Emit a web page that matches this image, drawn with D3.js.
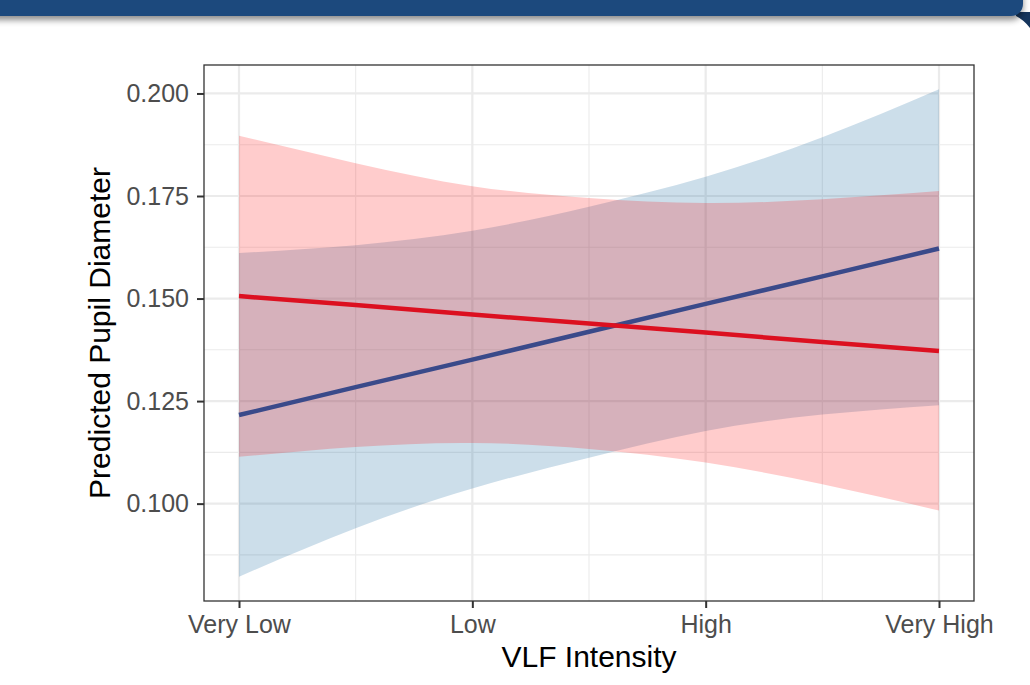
<!DOCTYPE html>
<html lang="en">
<head>
<meta charset="UTF-8">
<title>Predicted Pupil Diameter by VLF Intensity</title>
<script src="https://d3js.org/d3.v7.min.js"></script>
<style>
  body { margin: 0; background: #fff; }
  svg text { font-family: "Liberation Sans", Arial, Helvetica, sans-serif; }
</style>
</head>
<body>
<div id="chart"></div>
<script>
// category labels on the x axis (positions 1..4)
var levels = ["Very Low", "Low", "High", "Very High"];
// x positions the fitted values were read at
var xs = [1, 1.5, 2, 2.5, 3, 3.5, 4];

// blue group
var blueFit   = [0.1216, 0.1284, 0.1351, 0.1419, 0.1487, 0.1554, 0.1622];
var blueLower = [0.0822, 0.0940, 0.1037, 0.1112, 0.1177, 0.1217, 0.1240];
var blueUpper = [0.1611, 0.1630, 0.1665, 0.1724, 0.1797, 0.1893, 0.2010];

// red group
var redFit   = [0.1506, 0.1484, 0.1461, 0.1439, 0.1417, 0.1394, 0.1372];
var redLower = [0.1114, 0.1138, 0.1148, 0.1133, 0.1100, 0.1047, 0.0983];
var redUpper = [0.1897, 0.1830, 0.1774, 0.1745, 0.1733, 0.1742, 0.1762];

var yTicks = [0.100, 0.125, 0.150, 0.175, 0.200];

var W = 1030, H = 685;
var panel = {left: 204, right: 974, top: 65, bottom: 601};

var svg = d3.select("#chart").append("svg")
    .attr("width", W)
    .attr("height", H);

// banner shadow + banner
var defs = svg.append("defs");
var f = defs.append("filter").attr("id", "shadow")
    .attr("x", "-5%").attr("y", "-50%").attr("width", "110%").attr("height", "250%");
f.append("feDropShadow")
    .attr("dx", 0).attr("dy", 4).attr("stdDeviation", 3)
    .attr("flood-color", "#000").attr("flood-opacity", 0.45);

svg.append("path")
    .attr("d", "M1016,12 L1030,12 L1030,28 Q1024,20 1016,16 Z")
    .attr("fill", "#16355c");
svg.append("rect")
    .attr("x", -20).attr("y", -30)
    .attr("width", 1043).attr("height", 46)
    .attr("rx", 12)
    .attr("fill", "#1f497d")
    .attr("filter", "url(#shadow)");

// scales, ggplot-style 5% expansion
var allY = blueLower.concat(blueUpper, redLower, redUpper);
var yMin = d3.min(allY), yMax = d3.max(allY), ySpan = yMax - yMin;
var y = d3.scaleLinear()
    .domain([yMin - 0.05 * ySpan, yMax + 0.05 * ySpan])
    .range([panel.bottom, panel.top]);
var x = d3.scaleLinear()
    .domain([1 - 0.15, 4 + 0.15])
    .range([panel.left, panel.right]);

var g = svg.append("g");

// gridlines
var yMinor = d3.range(0.0875, y.domain()[1], 0.025).filter(function(v) { return v > y.domain()[0]; });
var xMinor = [1.5, 2.5, 3.5];

g.selectAll(".ymin").data(yMinor).enter().append("line")
    .attr("x1", panel.left).attr("x2", panel.right)
    .attr("y1", function(d) { return y(d); }).attr("y2", function(d) { return y(d); })
    .attr("stroke", "#ebebeb").attr("stroke-width", 1.1);
g.selectAll(".xmin").data(xMinor).enter().append("line")
    .attr("y1", panel.top).attr("y2", panel.bottom)
    .attr("x1", function(d) { return x(d); }).attr("x2", function(d) { return x(d); })
    .attr("stroke", "#ebebeb").attr("stroke-width", 1.1);
g.selectAll(".ymaj").data(yTicks).enter().append("line")
    .attr("x1", panel.left).attr("x2", panel.right)
    .attr("y1", function(d) { return y(d); }).attr("y2", function(d) { return y(d); })
    .attr("stroke", "#ebebeb").attr("stroke-width", 2.2);
g.selectAll(".xmaj").data(levels).enter().append("line")
    .attr("y1", panel.top).attr("y2", panel.bottom)
    .attr("x1", function(d, i) { return x(i + 1); }).attr("x2", function(d, i) { return x(i + 1); })
    .attr("stroke", "#ebebeb").attr("stroke-width", 2.2);

// ribbons
function band(lo, hi) {
  return d3.area()
      .x(function(d, i) { return x(xs[i]); })
      .y0(function(d, i) { return y(lo[i]); })
      .y1(function(d, i) { return y(hi[i]); })
      .curve(d3.curveNatural)(xs);
}
g.append("path").attr("d", band(blueLower, blueUpper))
    .attr("fill", "rgb(0,90,150)").attr("fill-opacity", 0.2);
g.append("path").attr("d", band(redLower, redUpper))
    .attr("fill", "rgb(255,0,0)").attr("fill-opacity", 0.2);

// fitted lines
var line = function(vals) {
  return d3.line()
      .x(function(d, i) { return x(xs[i]); })
      .y(function(d, i) { return y(vals[i]); })(xs);
};
g.append("path").attr("d", line(blueFit))
    .attr("fill", "none").attr("stroke", "#3a4a8a").attr("stroke-width", 4.5);
g.append("path").attr("d", line(redFit))
    .attr("fill", "none").attr("stroke", "#dc1020").attr("stroke-width", 4.5);

// panel border
g.append("rect")
    .attr("x", panel.left).attr("y", panel.top)
    .attr("width", panel.right - panel.left).attr("height", panel.bottom - panel.top)
    .attr("fill", "none").attr("stroke", "#333").attr("stroke-width", 1.3);

// axes
var yAxis = svg.append("g")
    .attr("transform", "translate(" + panel.left + ",0)")
    .call(d3.axisLeft(y).tickValues(yTicks).tickFormat(d3.format(".3f")).tickSize(7).tickPadding(8));
var xAxis = svg.append("g")
    .attr("transform", "translate(0," + panel.bottom + ")")
    .call(d3.axisBottom(x).tickValues([1, 2, 3, 4])
      .tickFormat(function(d) { return levels[d - 1]; }).tickSize(7).tickPadding(7));

[yAxis, xAxis].forEach(function(a) {
  a.select(".domain").remove();
  a.selectAll(".tick line").attr("stroke", "#333").attr("stroke-width", 2);
  a.selectAll(".tick text").attr("fill", "#4d4d4d").style("font-size", "25px")
      .style("font-family", "'Liberation Sans', Arial, sans-serif");
});

// axis titles
svg.append("text")
    .attr("x", (panel.left + panel.right) / 2)
    .attr("y", 667)
    .attr("text-anchor", "middle")
    .style("font-size", "30px")
    .attr("fill", "#000")
    .text("VLF Intensity");

svg.append("text")
    .attr("transform", "translate(110," + ((panel.top + panel.bottom) / 2) + ") rotate(-90)")
    .attr("text-anchor", "middle")
    .style("font-size", "30px")
    .attr("fill", "#000")
    .text("Predicted Pupil Diameter");
</script>
</body>
</html>
